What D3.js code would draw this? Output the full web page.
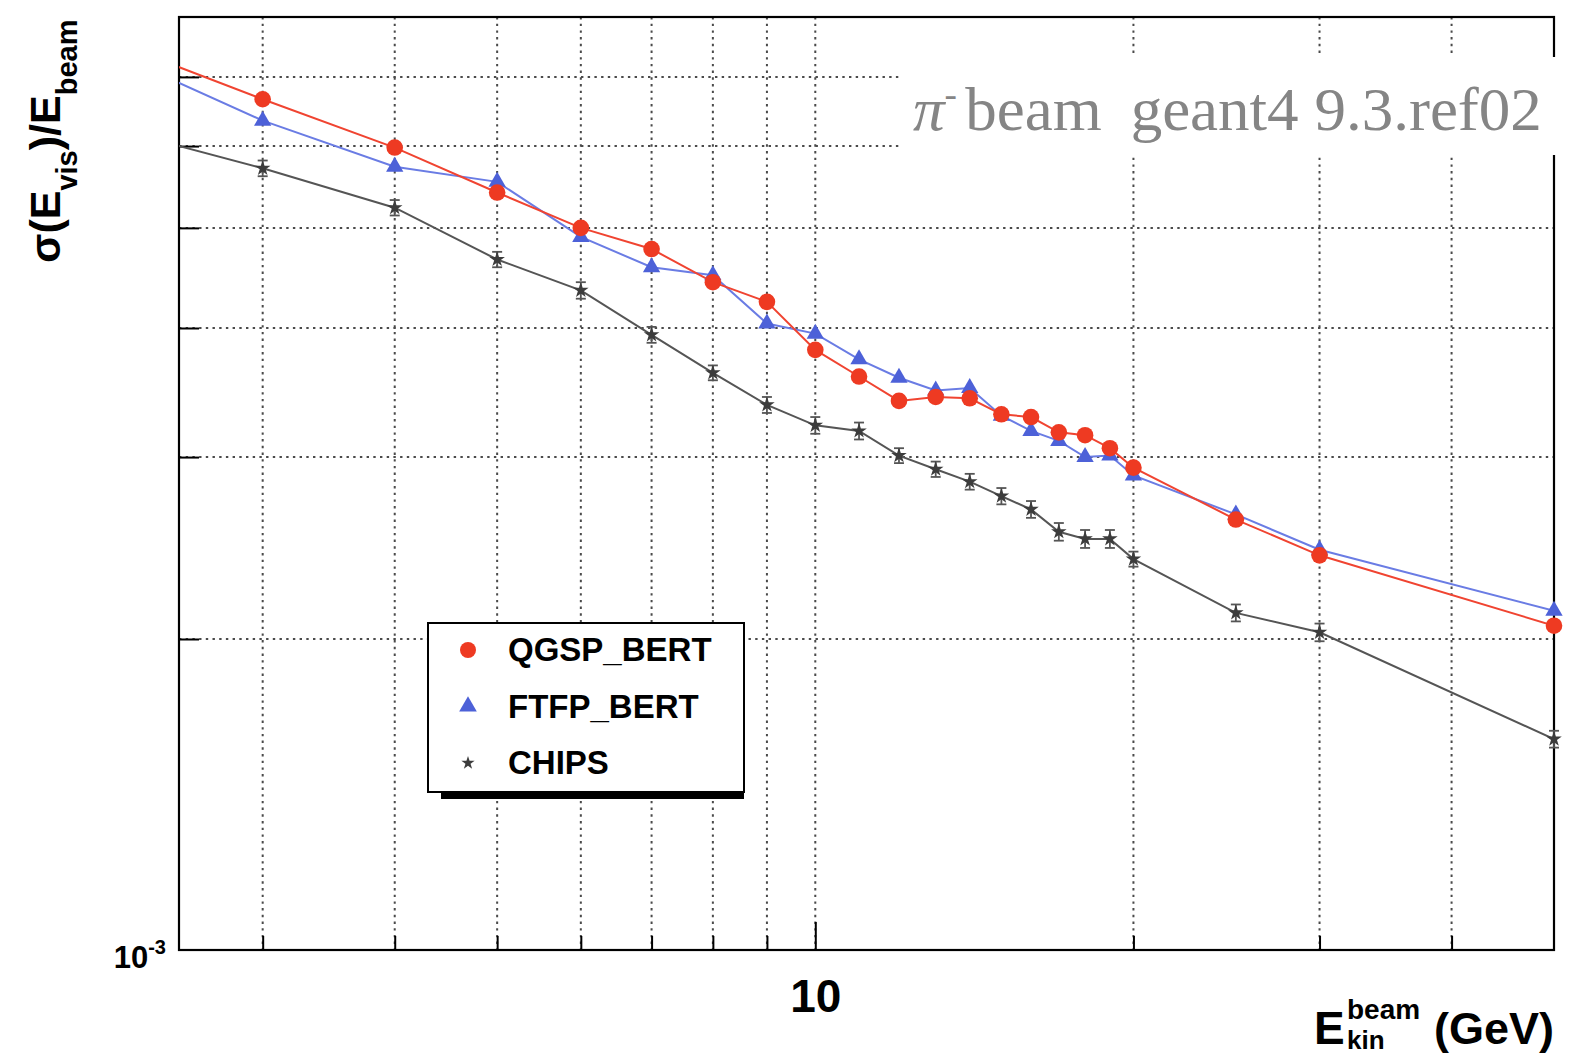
<!DOCTYPE html>
<html><head><meta charset="utf-8">
<script src="https://cdn.jsdelivr.net/npm/d3@7"></script>
<style>body{margin:0;background:#fff}svg{display:block}</style>
</head><body>
<svg id="c" width="1572" height="1056"></svg>
<script>
// ---- data (values of sigma(Evis)/Ebeam in units of 1e-3) ----
const energies = [2, 3, 4, 5, 6, 7, 8, 9, 10, 11, 12, 13, 14, 15, 16, 17, 18, 19, 20, 25, 30, 50];
const qgspBert = [7.81, 6.66, 5.98, 5.41, 5.00, 4.77, 4.43, 4.24, 3.81, 3.59, 3.40, 3.43, 3.42, 3.30, 3.28, 3.17, 3.15, 3.06, 2.93, 2.61, 2.41, 2.06];
const ftfpBert = [7.66, 6.35, 5.73, 5.54, 4.90, 4.58, 4.50, 4.04, 3.95, 3.73, 3.58, 3.48, 3.50, 3.29, 3.18, 3.11, 3.00, 3.01, 2.88, 2.64, 2.44, 2.13];
const chips    = [6.38, 5.71, 5.23, 4.66, 4.35, 3.94, 3.62, 3.37, 3.22, 3.18, 3.01, 2.92, 2.84, 2.75, 2.67, 2.54, 2.50, 2.50, 2.39, 2.12, 2.03, 1.60];
const chipsErr = [0.10, 0.10, 0.09, 0.08, 0.08, 0.07, 0.06, 0.06, 0.06, 0.06, 0.05, 0.05, 0.05, 0.05, 0.05, 0.05, 0.05, 0.05, 0.04, 0.04, 0.04, 0.03];
const seriesNames = ["QGSP_BERT", "FTFP_BERT", "CHIPS"];
const xGridTicks = [3, 4, 5, 6, 7, 8, 9, 10, 20, 30, 40];
const xLabelTicks = [10];
const yGridTicks = [2e-3, 3e-3, 4e-3, 5e-3, 6e-3, 7e-3];
const yLabelTicks = [1e-3];
const xDomain = [2.5, 50];
const yDomain = [1e-3, 8e-3];
const noteText = ["π", "-", "beam", "geant4 9.3.ref02"];

// ---- layout ----
const W = 1572, H = 1056;
const L = 179, R = 1554, T = 17, B = 950;
const sans = "'Liberation Sans', Arial, Helvetica, sans-serif";
const serif = "'Liberation Serif', 'DejaVu Serif', serif";
const cRed = "#ee3a22", cRedLine = "#f04431";
const cBlue = "#4d61d8", cBlueLine = "#6a7ce4";
const cGrayLine = "#555555", cStar = "#3c3c3c";

const x = d3.scaleLog().domain(xDomain).range([L, R]);
const y = d3.scaleLog().domain(yDomain).range([B, T]);

const svg = d3.select("#c");
svg.append("rect").attr("width", W).attr("height", H).attr("fill", "#fff");

// grid
const grid = svg.append("g").attr("stroke", "#4a4a4a").attr("stroke-width", 2)
  .attr("stroke-dasharray", "2.4,4.3").attr("fill", "none");
grid.selectAll("line.gx").data(xGridTicks).join("line").attr("class", "gx")
  .attr("x1", d => x(d)).attr("x2", d => x(d)).attr("y1", T).attr("y2", B);
grid.selectAll("line.gy").data(yGridTicks).join("line").attr("class", "gy")
  .attr("y1", d => y(d)).attr("y2", d => y(d)).attr("x1", L).attr("x2", R);

// axes
function styleAxis(g) {
  g.select(".domain").remove();
  g.selectAll(".tick line").attr("stroke", "#000").attr("stroke-width", 2);
}
svg.append("g").attr("transform", `translate(0,${B})`)
  .call(d3.axisBottom(x).tickValues(xGridTicks.filter(v => !xLabelTicks.includes(v))).tickSize(-14).tickFormat(""))
  .call(styleAxis);
const gxMaj = svg.append("g").attr("transform", `translate(0,${B})`)
  .call(d3.axisBottom(x).tickValues(xLabelTicks).tickSize(-28).tickPadding(29).tickFormat(d3.format("d")))
  .call(styleAxis);
gxMaj.selectAll("text").attr("font-size", 46).attr("font-weight", "bold")
  .attr("font-family", sans).attr("fill", "#000");

svg.append("g").attr("transform", `translate(${L},0)`)
  .call(d3.axisLeft(y).tickValues(yGridTicks).tickSize(-20).tickFormat(""))
  .call(styleAxis);
const gyLab = svg.append("g").attr("transform", `translate(${L},0)`)
  .call(d3.axisLeft(y).tickValues(yLabelTicks).tickSize(0).tickPadding(13).tickFormat(""))
  .call(styleAxis);
gyLab.selectAll("text").attr("font-size", 31).attr("font-weight", "bold")
  .attr("font-family", sans).attr("fill", "#000").attr("dy", "0.55em")
  .each(function (d) {
    const t = d3.select(this);
    t.append("tspan").text("10");
    t.append("tspan").attr("font-size", 20).attr("dy", -14).text(Math.round(Math.log10(d)));
  });

// frame
svg.append("rect").attr("x", L).attr("y", T).attr("width", R - L).attr("height", B - T)
  .attr("fill", "none").attr("stroke", "#000").attr("stroke-width", 2.2);

// axis titles
const yt = svg.append("text").attr("transform", "translate(60,263) rotate(-90)")
  .attr("font-family", sans).attr("font-weight", "bold").attr("font-size", 43).attr("fill", "#000");
yt.append("tspan").text("σ(E");
yt.append("tspan").attr("font-size", 29).attr("dy", 17).text("vis");
yt.append("tspan").attr("dy", -17).text(")/E");
yt.append("tspan").attr("font-size", 29).attr("dy", 17).text("beam");

const xt = svg.append("g").attr("font-family", sans).attr("font-weight", "bold").attr("fill", "#000");
xt.append("text").attr("x", 1314).attr("y", 1044).attr("font-size", 46).text("E");
xt.append("text").attr("x", 1347).attr("y", 1019).attr("font-size", 28).text("beam");
xt.append("text").attr("x", 1347).attr("y", 1049).attr("font-size", 26).text("kin");
xt.append("text").attr("x", 1434).attr("y", 1044).attr("font-size", 45).text("(GeV)");

// note box (covers frame & grid)
svg.append("rect").attr("x", 902).attr("y", 57).attr("width", 665).attr("height", 98).attr("fill", "#fff");
const noteG = svg.append("g");
const nt = noteG.append("text").attr("x", 0).attr("y", 0).attr("font-family", serif)
  .attr("font-size", 61).attr("fill", "#858585");
nt.append("tspan").attr("font-style", "italic").text(noteText[0]);
nt.append("tspan").attr("font-size", 36).attr("dy", -24).text(noteText[1]);
nt.append("tspan").attr("dy", 24).attr("dx", 8).text(noteText[2]);
nt.append("tspan").attr("dx", 28).text(noteText[3]);
const nb = nt.node().getBBox();
const sx = 629 / nb.width;
noteG.attr("transform", `translate(${913 - nb.x * sx},130) scale(${sx},1)`);

// data lines
svg.append("defs").append("clipPath").attr("id", "plotclip")
  .append("rect").attr("x", L).attr("y", T).attr("width", R - L).attr("height", B - T);
const mk = arr => energies.map((e, i) => ({ e, v: arr[i] * 1e-3 }));
const dQ = mk(qgspBert), dF = mk(ftfpBert), dC = mk(chips);
dC.forEach((d, i) => d.err = chipsErr[i] * 1e-3);
const line = d3.line().x(d => x(d.e)).y(d => y(d.v));
const lines = svg.append("g").attr("clip-path", "url(#plotclip)").attr("fill", "none");
lines.append("path").datum(dC).attr("d", line).attr("stroke", cGrayLine).attr("stroke-width", 2);
lines.append("path").datum(dF).attr("d", line).attr("stroke", cBlueLine).attr("stroke-width", 2);
lines.append("path").datum(dQ).attr("d", line).attr("stroke", cRedLine).attr("stroke-width", 2);

const inDom = d => d.e >= xDomain[0] && d.e <= xDomain[1];
// chips error bars + stars
const eb = svg.append("g").attr("stroke", "#555").attr("stroke-width", 1.8);
const ebd = dC.filter(inDom);
eb.selectAll("line.v").data(ebd).join("line").attr("class", "v")
  .attr("x1", d => x(d.e)).attr("x2", d => x(d.e)).attr("y1", d => y(d.v - d.err)).attr("y2", d => y(d.v + d.err));
eb.selectAll("line.t").data(ebd).join("line").attr("class", "t")
  .attr("x1", d => x(d.e) - 5).attr("x2", d => x(d.e) + 5).attr("y1", d => y(d.v + d.err)).attr("y2", d => y(d.v + d.err));
eb.selectAll("line.b").data(ebd).join("line").attr("class", "b")
  .attr("x1", d => x(d.e) - 5).attr("x2", d => x(d.e) + 5).attr("y1", d => y(d.v - d.err)).attr("y2", d => y(d.v - d.err));
const star = d3.symbol(d3.symbolStar, 75);
svg.append("g").selectAll("path").data(ebd).join("path").attr("d", star)
  .attr("transform", d => `translate(${x(d.e)},${y(d.v)})`).attr("fill", cStar);

const tri = d3.symbol(d3.symbolTriangle, 130);
svg.append("g").selectAll("path").data(dF.filter(inDom)).join("path").attr("d", tri)
  .attr("transform", d => `translate(${x(d.e)},${y(d.v)})`).attr("fill", cBlue);
svg.append("g").selectAll("circle").data(dQ.filter(inDom)).join("circle")
  .attr("cx", d => x(d.e)).attr("cy", d => y(d.v)).attr("r", 8.3).attr("fill", cRed);

// legend
const lg = svg.append("g");
lg.append("rect").attr("x", 441).attr("y", 786).attr("width", 303).attr("height", 13).attr("fill", "#000");
lg.append("rect").attr("x", 428).attr("y", 623).attr("width", 316).attr("height", 169)
  .attr("fill", "#fff").attr("stroke", "#000").attr("stroke-width", 2);
const rows = lg.selectAll("g.row").data(seriesNames).join("g").attr("class", "row")
  .attr("transform", (d, i) => `translate(468,${650 + i * 56.5})`);
rows.each(function (d, i) {
  const g = d3.select(this);
  if (i === 0) g.append("circle").attr("r", 8).attr("fill", cRed);
  else if (i === 1) g.append("path").attr("d", d3.symbol(d3.symbolTriangle, 135)()).attr("fill", cBlue);
  else g.append("path").attr("d", d3.symbol(d3.symbolStar, 55)()).attr("fill", cStar);
  g.append("text").attr("x", 40).attr("y", 11).attr("font-family", sans).attr("font-weight", "bold")
    .attr("font-size", 33).attr("fill", "#000").text(d);
});
</script>
</body></html>
